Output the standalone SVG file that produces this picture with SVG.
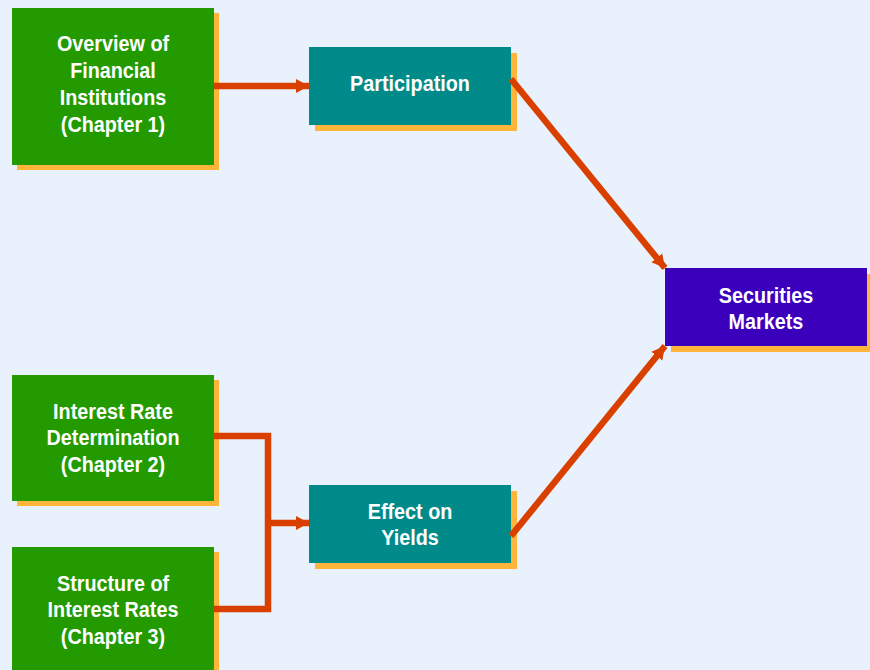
<svg xmlns="http://www.w3.org/2000/svg" width="870" height="670" viewBox="0 0 870 670">
<defs>
<style>
.shadow{fill:#FFB53A}
.green{fill:#229A00}
.teal{fill:#008A8A}
.purple{fill:#3A00BC}
.lbl{font-family:"Liberation Sans",Arial,sans-serif;font-weight:bold;font-size:22px;fill:#FFFFFF;text-anchor:middle}
.conn{stroke:#D94000;stroke-width:6.5;fill:none}
</style>
<marker id="ah" markerUnits="userSpaceOnUse" markerWidth="16" markerHeight="16" viewBox="0 0 16 16" refX="13" refY="8" orient="auto">
<path d="M0,1 L13,8 L0,15 Z" fill="#D94000"/>
</marker>
</defs>
<rect width="870" height="670" fill="#E8F1FC"/>
<g id="overview">
<rect class="shadow" x="17" y="13" width="202" height="157"/>
<rect class="green" x="12" y="8" width="202" height="157"/>
<text class="lbl" transform="translate(113,51) scale(0.9,1)">Overview of</text>
<text class="lbl" transform="translate(113,78) scale(0.9,1)">Financial</text>
<text class="lbl" transform="translate(113,105) scale(0.9,1)">Institutions</text>
<text class="lbl" transform="translate(113,132) scale(0.9,1)">(Chapter 1)</text>
</g>
<g id="participation">
<rect class="shadow" x="315" y="53" width="202" height="78"/>
<rect class="teal" x="309" y="47" width="202" height="78"/>
<text class="lbl" transform="translate(410,91) scale(0.9,1)">Participation</text>
</g>
<g id="securities">
<rect class="shadow" x="671" y="274" width="202" height="78"/>
<rect class="purple" x="665" y="268" width="202" height="78"/>
<text class="lbl" transform="translate(766,303) scale(0.9,1)">Securities</text>
<text class="lbl" transform="translate(766,329) scale(0.9,1)">Markets</text>
</g>
<g id="interest-rate">
<rect class="shadow" x="17" y="380" width="202" height="126"/>
<rect class="green" x="12" y="375" width="202" height="126"/>
<text class="lbl" transform="translate(113,419) scale(0.9,1)">Interest Rate</text>
<text class="lbl" transform="translate(113,445) scale(0.9,1)">Determination</text>
<text class="lbl" transform="translate(113,472) scale(0.9,1)">(Chapter 2)</text>
</g>
<g id="structure">
<rect class="shadow" x="17" y="552" width="202" height="130"/>
<rect class="green" x="12" y="547" width="202" height="130"/>
<text class="lbl" transform="translate(113,591) scale(0.9,1)">Structure of</text>
<text class="lbl" transform="translate(113,617) scale(0.9,1)">Interest Rates</text>
<text class="lbl" transform="translate(113,644) scale(0.9,1)">(Chapter 3)</text>
</g>
<g id="effect">
<rect class="shadow" x="315" y="491" width="202" height="78"/>
<rect class="teal" x="309" y="485" width="202" height="78"/>
<text class="lbl" transform="translate(410,519) scale(0.9,1)">Effect on</text>
<text class="lbl" transform="translate(410,545) scale(0.9,1)">Yields</text>
</g>
<g id="connectors">
<line class="conn" x1="214" y1="86" x2="309" y2="86" marker-end="url(#ah)"/>
<polyline class="conn" points="214,436 268,436 268,609 214,609"/>
<line class="conn" x1="268" y1="523" x2="309" y2="523" marker-end="url(#ah)"/>
<line class="conn" x1="511" y1="79" x2="665" y2="268" marker-end="url(#ah)"/>
<line class="conn" x1="511" y1="536" x2="665" y2="346" marker-end="url(#ah)"/>
</g>
</svg>
